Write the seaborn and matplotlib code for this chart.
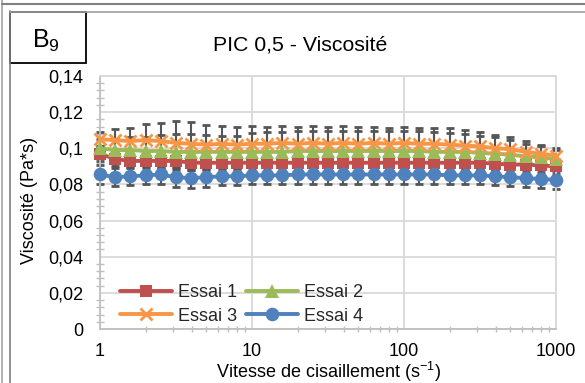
import matplotlib
matplotlib.use("Agg")
import matplotlib.pyplot as plt
from matplotlib.lines import Line2D
from matplotlib.patches import Rectangle
from matplotlib.ticker import FixedLocator, LogLocator, MultipleLocator, FuncFormatter, NullFormatter
import pandas as pd
import seaborn as sns

# Shear rates (s^-1)
shear = [1, 1.26, 1.58, 2.0, 2.51, 3.16, 3.98, 5.01, 6.31, 7.94,
         10, 12.6, 15.8, 20, 25.1, 31.6, 39.8, 50.1, 63.1, 79.4,
         100, 126, 158, 200, 251, 316, 398, 501, 631, 794, 1000]

# Mean viscosity (Pa*s) per run
essai1 = [0.097, 0.094, 0.093, 0.093, 0.093, 0.093, 0.092, 0.092, 0.092, 0.092,
          0.092, 0.092, 0.092, 0.092, 0.092, 0.092, 0.092, 0.092, 0.092, 0.092,
          0.092, 0.092, 0.092, 0.092, 0.092, 0.092, 0.0915, 0.091, 0.091, 0.0905, 0.090]
essai2 = [0.100, 0.099, 0.099, 0.0985, 0.0985, 0.098, 0.098, 0.098, 0.098, 0.098,
          0.098, 0.098, 0.098, 0.0985, 0.0985, 0.0985, 0.0985, 0.0985, 0.0985, 0.0985,
          0.0985, 0.0985, 0.098, 0.098, 0.098, 0.0975, 0.097, 0.0965, 0.0955, 0.095, 0.094]
essai3 = [0.105, 0.1045, 0.104, 0.1045, 0.104, 0.103, 0.1025, 0.102, 0.1025, 0.102,
          0.1025, 0.1025, 0.103, 0.1025, 0.103, 0.1025, 0.103, 0.1025, 0.103, 0.1025,
          0.103, 0.1025, 0.1025, 0.102, 0.1015, 0.101, 0.100, 0.0995, 0.098, 0.097, 0.096]
essai4 = [0.0855, 0.084, 0.0845, 0.085, 0.0855, 0.084, 0.0835, 0.084, 0.0845, 0.0845,
          0.085, 0.085, 0.085, 0.0855, 0.0855, 0.0855, 0.0855, 0.0855, 0.0855, 0.0855,
          0.0855, 0.0855, 0.0855, 0.085, 0.085, 0.085, 0.0845, 0.084, 0.0835, 0.083, 0.0825]

# Standard deviations per run
sd1 = [0.004, 0.004, 0.004, 0.004, 0.004, 0.004, 0.004, 0.004, 0.004, 0.004,
       0.004, 0.004, 0.004, 0.004, 0.004, 0.004, 0.004, 0.004, 0.004, 0.004,
       0.004, 0.004, 0.004, 0.004, 0.004, 0.004, 0.004, 0.004, 0.004, 0.004, 0.004]
sd2 = [0.005, 0.006, 0.007, 0.008, 0.009, 0.010, 0.010, 0.0095, 0.009, 0.009,
       0.0105, 0.011, 0.011, 0.011, 0.011, 0.011, 0.011, 0.011, 0.011, 0.011,
       0.011, 0.011, 0.011, 0.0105, 0.010, 0.0095, 0.009, 0.008, 0.007, 0.006, 0.005]
sd3 = [0.004, 0.006, 0.007, 0.009, 0.010, 0.012, 0.012, 0.011, 0.010, 0.010,
       0.010, 0.0095, 0.0095, 0.0095, 0.0095, 0.0095, 0.0095, 0.0095, 0.009, 0.009,
       0.009, 0.009, 0.009, 0.009, 0.0085, 0.008, 0.0075, 0.007, 0.006, 0.005, 0.004]
sd4 = [0.005, 0.005, 0.005, 0.005, 0.0055, 0.0055, 0.0055, 0.0055, 0.005, 0.005,
       0.005, 0.005, 0.005, 0.005, 0.005, 0.005, 0.005, 0.005, 0.005, 0.005,
       0.005, 0.005, 0.005, 0.005, 0.005, 0.005, 0.005, 0.005, 0.005, 0.005, 0.005]

labels = ["Essai 1", "Essai 2", "Essai 3", "Essai 4"]
colors = ["#C0504D", "#9BBB59", "#F79646", "#4F81BD"]
y_ticks = [0, 0.02, 0.04, 0.06, 0.08, 0.10, 0.12, 0.14]
x_ticks = [1, 10, 100, 1000]

sns.set_style("white")
plt.rcParams["font.family"] = ["Liberation Sans", "DejaVu Sans"]
plt.rcParams["mathtext.fontset"] = "custom"
plt.rcParams["mathtext.rm"] = "Liberation Sans"
plt.rcParams["mathtext.it"] = "Liberation Sans:italic"

W, H = 585, 383
fig = plt.figure(figsize=(W / 100, H / 100), dpi=100)
fig.patch.set_facecolor("white")


def fx(x):
    return x / W


def fy(y):
    return 1 - y / H


ax = fig.add_axes([fx(100), fy(329), (556 - 100) / W, (329 - 76) / H])

df = pd.DataFrame({"shear": shear, "Essai 1": essai1, "Essai 2": essai2,
                   "Essai 3": essai3, "Essai 4": essai4})
sds = {"Essai 1": sd1, "Essai 2": sd2, "Essai 3": sd3, "Essai 4": sd4}

# Error bars underneath the series
for lab in labels:
    eb = ax.errorbar(df["shear"], df[lab], yerr=sds[lab], fmt="none",
                     ecolor="#555555", elinewidth=1.5, capsize=3.0, capthick=2.0,
                     zorder=2)
    for art in eb.lines[1] + eb.lines[2]:
        art.set_clip_on(False)

markers = {"Essai 1": "s", "Essai 2": "^", "Essai 3": "x", "Essai 4": "o"}
msizes = {"Essai 1": 8.8, "Essai 2": 9.8, "Essai 3": 8.5, "Essai 4": 9.8}
for i, (lab, col) in enumerate(zip(labels, colors)):
    kw = dict(marker=markers[lab], markersize=msizes[lab], color=col,
              linewidth=2.8, label=lab, errorbar=None, zorder=3 + i)
    if markers[lab] == "x":
        kw.update(markeredgewidth=2.0, markeredgecolor=col)
    else:
        kw.update(markeredgewidth=0)
    sns.lineplot(data=df, x="shear", y=lab, ax=ax, **kw)

for ln in ax.get_lines():
    ln.set_clip_on(False)

ax.set_xscale("log")
ax.set_xlim(1, 1000)
ax.set_ylim(0, 0.14)
ax.set_xlabel("")
ax.set_ylabel("")

ax.yaxis.set_major_locator(FixedLocator(y_ticks))
ax.yaxis.set_minor_locator(MultipleLocator(0.004))


def yfmt(v, pos):
    if abs(v) < 1e-9:
        return "0"
    s = f"{v:.2f}".rstrip("0").rstrip(".")
    return s.replace(".", ",")


ax.yaxis.set_major_formatter(FuncFormatter(yfmt))
ax.xaxis.set_major_locator(FixedLocator(x_ticks))
ax.xaxis.set_minor_locator(LogLocator(base=10, subs=range(2, 10)))
ax.xaxis.set_major_formatter(FuncFormatter(lambda v, p: f"{int(round(v))}"))
ax.xaxis.set_minor_formatter(NullFormatter())

ax.grid(True, which="major", color="#D9D9D9", linewidth=1.3, zorder=0)
ax.set_axisbelow(True)
for side in ["left", "bottom"]:
    ax.spines[side].set_color("#BFBFBF")
    ax.spines[side].set_linewidth(1.3)
for side in ["top", "right"]:
    ax.spines[side].set_color("#D9D9D9")
    ax.spines[side].set_linewidth(1.3)

ax.tick_params(axis="y", which="major", direction="inout", length=6, width=1.2,
               color="#BFBFBF", labelsize=13, pad=9, labelcolor="black")
ax.tick_params(axis="y", which="minor", direction="inout", length=6, width=1.0,
               color="#BFBFBF", left=True)
ax.tick_params(axis="x", which="major", direction="inout", length=6, width=1.2,
               color="#BFBFBF", labelsize=13, pad=7, labelcolor="black")
ax.tick_params(axis="x", which="minor", direction="inout", length=4, width=1.0,
               color="#BFBFBF", bottom=True)

# Legend: two columns, rows Essai 1/Essai 2 then Essai 3/Essai 4
handles, labs = ax.get_legend_handles_labels()
order = [0, 2, 1, 3]
ax.legend([handles[k] for k in order], [labs[k] for k in order], ncol=2,
          loc="upper left", bbox_to_anchor=(fx(120), fy(284)),
          bbox_transform=fig.transFigure, frameon=False, fontsize=13,
          handlelength=2.9, handletextpad=0.33, columnspacing=0.45,
          labelspacing=0.37, borderpad=0, borderaxespad=0, numpoints=1)

# Titles and axis labels
fig.text(fx(300), fy(45), "PIC 0,5 - Viscosité", ha="center", va="center",
         fontsize=15.3, color="black")
fig.text(fx(29), fy(200), "Viscosité (Pa*s)", ha="center", va="center",
         rotation=90, fontsize=13, color="black")
fig.text(fx(329), fy(372), r"Vitesse de cisaillement (s$^{\mathregular{-1}}$)",
         ha="center", va="center", fontsize=13, color="black")

# Panel tag box
fig.add_artist(Rectangle((fx(10), fy(63)), (86 - 10) / W, (63 - 12.5) / H,
                         transform=fig.transFigure, facecolor="white",
                         edgecolor="black", linewidth=1.3))
fig.text(fx(46), fy(41), r"B$_{\mathregular{9}}$", ha="center", va="center",
         fontsize=18, color="black")

# Page frame lines
fig.add_artist(Line2D([fx(2), fx(2)], [0, 1], transform=fig.transFigure,
                      color="#A6A6A6", linewidth=1.2))
fig.add_artist(Line2D([fx(9.5), fx(9.5)], [0, fy(11)], transform=fig.transFigure,
                      color="#7F7F7F", linewidth=1.2))
fig.add_artist(Line2D([fx(2), 1], [fy(3.5), fy(3.5)], transform=fig.transFigure,
                      color="#808080", linewidth=1.5))
fig.add_artist(Line2D([fx(9.5), 1], [fy(11.5), fy(11.5)], transform=fig.transFigure,
                      color="#A0A0A0", linewidth=1.2))

fig.savefig("out.png", dpi=100)
